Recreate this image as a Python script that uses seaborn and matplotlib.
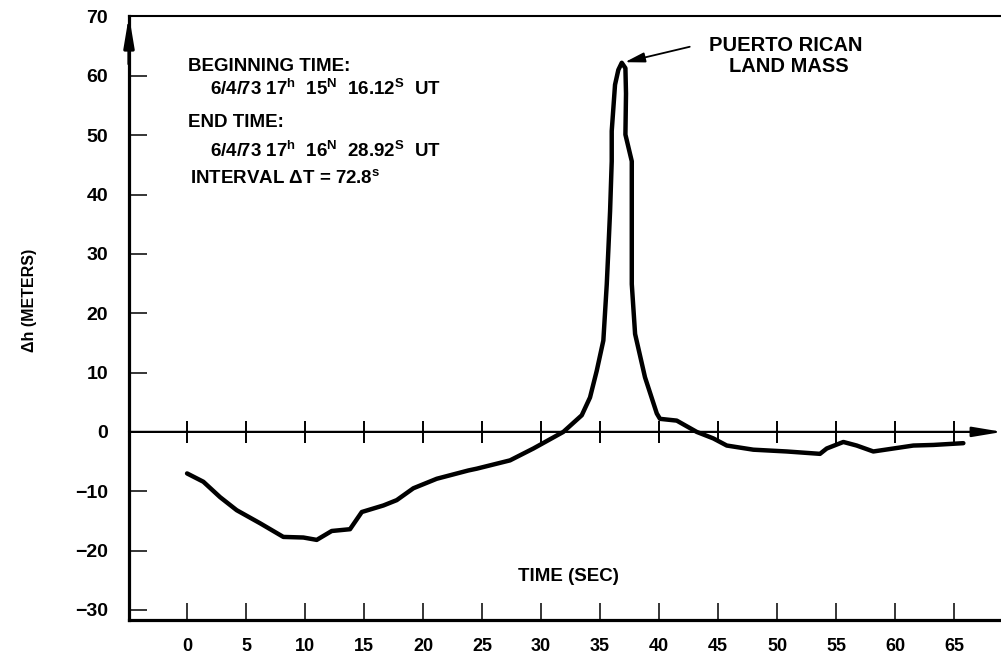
import matplotlib
matplotlib.use("Agg")
import matplotlib.pyplot as plt
import seaborn as sns
import pandas as pd

# ---- data ----
time_sec = [0.0, 1.38, 2.80, 4.21, 6.19, 8.16, 9.86, 10.99, 12.26, 13.81, 14.81,
            16.64, 17.77, 19.18, 21.16, 23.84, 24.55, 27.37, 29.35, 31.89, 33.45,
            34.15, 34.72, 35.28, 35.57, 35.70, 35.85, 35.99, 35.99, 36.27, 36.55, 36.84,
            37.15, 37.20, 37.15, 37.69, 37.69, 37.69, 37.97, 38.81, 39.81, 40.08, 41.50,
            43.19, 44.60, 45.74, 47.99, 50.82, 53.64, 54.21, 55.62, 56.75, 58.16,
            59.86, 61.55, 63.25, 65.79]
dh_m = [-7.0, -8.4, -11.0, -13.2, -15.4, -17.7, -17.8, -18.2, -16.7, -16.4, -13.5,
        -12.4, -11.5, -9.5, -7.9, -6.5, -6.2, -4.8, -2.8, 0.0, 2.8,
        5.8, 10.3, 15.4, 24.9, 30.5, 37.2, 45.6, 50.7, 58.5, 61.0, 62.2,
        61.3, 57.0, 50.1, 45.6, 36.1, 24.9, 16.5, 9.2, 3.1, 2.2, 1.9,
        0.0, -1.1, -2.3, -3.0, -3.3, -3.7, -2.8, -1.7, -2.3, -3.3,
        -2.8, -2.3, -2.2, -1.9]
x_ticks = [0, 5, 10, 15, 20, 25, 30, 35, 40, 45, 50, 55, 60, 65]
y_ticks = [-30, -20, -10, 0, 10, 20, 30, 40, 50, 60, 70]

info_lines = [
    "BEGINNING TIME:",
    r"6/4/73 17$^{\mathrm{h}}$  15$^{\mathrm{N}}$  16.12$^{\mathrm{S}}$  UT",
    "END TIME:",
    r"6/4/73 17$^{\mathrm{h}}$  16$^{\mathrm{N}}$  28.92$^{\mathrm{S}}$  UT",
    r"INTERVAL $\Delta$T = 72.8$^{\mathrm{s}}$",
]
peak_label = ["PUERTO RICAN", "LAND MASS"]
x_label = "TIME (SEC)"
y_label = "Δh (METERS)"

# ---- style ----
sns.set_theme(style="white")
plt.rcParams['font.family'] = ['Liberation Sans', 'DejaVu Sans']
plt.rcParams['font.weight'] = 'bold'
plt.rcParams['mathtext.fontset'] = 'custom'
plt.rcParams['mathtext.rm'] = 'Liberation Sans:bold'
plt.rcParams['mathtext.it'] = 'Liberation Sans:bold'
plt.rcParams['mathtext.bf'] = 'Liberation Sans:bold'
plt.rcParams['mathtext.sf'] = 'Liberation Sans:bold'
for k in ['text.color', 'axes.labelcolor', 'xtick.color', 'ytick.color', 'axes.edgecolor']:
    plt.rcParams[k] = 'black'

W, H = 1001, 658
fig = plt.figure(figsize=(W / 100, H / 100), dpi=100)
fig.patch.set_facecolor('white')
ax = fig.add_axes([129 / W, 1 - 620 / H, 1 - 129 / W, (620 - 16.5) / H])
ax.set_facecolor('white')

df = pd.DataFrame({'t': time_sec, 'h': dh_m})
sns.lineplot(data=df, x='t', y='h', sort=False, estimator=None, color='black',
             lw=3.2, ax=ax, solid_capstyle='round', solid_joinstyle='round')

xmin, xmax = -4.92, 68.98
ax.set_xlim(xmin, xmax)
ax.set_ylim(-31.7, 70)

ax.set_xticks(x_ticks)
ax.set_yticks(y_ticks)
ax.set_xticklabels([str(v) for v in x_ticks], fontsize=13, fontweight='bold',
                   family=['Liberation Sans Narrow', 'Liberation Sans'])
ax.set_yticklabels([f"{v}".replace('-', '\u2212') for v in y_ticks], fontsize=14,
                   fontweight='bold')
ax.tick_params(axis='y', direction='in', length=13, width=1.1, pad=15, left=True)
ax.tick_params(axis='x', direction='in', length=12, width=1.1, pad=13, bottom=True)

ax.spines['right'].set_visible(False)
ax.spines['left'].set_linewidth(2.3)
ax.spines['bottom'].set_linewidth(2.3)
ax.spines['top'].set_linewidth(1.5)
ax.grid(False)

# zero line with arrow and crossing ticks
ax.annotate('', xy=(69.1, 0), xytext=(xmin, 0),
            arrowprops=dict(arrowstyle='-|>,head_length=1.8,head_width=0.3',
                            lw=1.6, color='black', shrinkA=0, shrinkB=0,
                            mutation_scale=10), annotation_clip=False)
ax.plot(x_ticks, [0] * len(x_ticks), linestyle='none', marker='|',
        markersize=16.5, mew=1.4, color='black')

# arrow at top of y axis
ax.annotate('', xy=(xmin, 70.2), xytext=(xmin, 62),
            arrowprops=dict(arrowstyle='-|>,head_length=1.8,head_width=0.3',
                            lw=2.3, color='black', shrinkA=0, shrinkB=0,
                            mutation_scale=10), annotation_clip=False)

# labels
ax.set_xlabel('')
ax.set_ylabel(y_label, fontsize=11.5, fontweight='bold')
ax.yaxis.set_label_coords(-0.105, 0.530)
ax.text(32.3, -24.45, x_label, ha='center', va='center', fontsize=13.5,
        fontweight='bold')

# info block
info_x = [0.08, 1.95, 0.08, 1.95, 0.25]
info_y = [60.75, 56.7, 51.4, 46.4, 41.9]
for s, tx, ty in zip(info_lines, info_x, info_y):
    ax.text(tx, ty, s, ha='left', va='baseline', fontsize=13.5, fontweight='bold')

# peak annotation
ax.annotate('', xy=(37.1, 62.3), xytext=(42.6, 64.9),
            arrowprops=dict(arrowstyle='-|>,head_length=1.2,head_width=0.3',
                            lw=1.3, color='black', shrinkA=0, shrinkB=0,
                            mutation_scale=10))
ax.text(50.76, 65.15, peak_label[0], ha='center', va='center', fontsize=14.5,
        fontweight='bold')
ax.text(51.0, 61.5, peak_label[1], ha='center', va='center', fontsize=14.5,
        fontweight='bold')

fig.savefig('out.png', dpi=100, facecolor='white')
